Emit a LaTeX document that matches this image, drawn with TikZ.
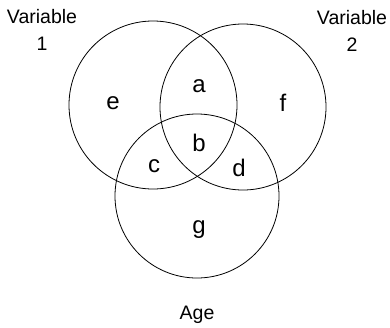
\documentclass[tikz,border=0pt]{standalone}
\usepackage{fontspec}
\setmainfont{Liberation Sans}
\tikzset{
  region/.style={font=\fontsize{24}{28}\selectfont, inner sep=0pt},
  setname/.style={font=\fontsize{19.5}{27}\selectfont, align=center, inner sep=0pt},
  setline/.style={line width=0.8pt}
}
\begin{document}
\begin{tikzpicture}[x=1pt, y=-1pt]
  \useasboundingbox (0,0) rectangle (390,327);

  % Los tres conjuntos
  \draw[setline] (153,105) circle (84);
  \draw[setline] (243,107) circle (83);
  \draw[setline] (197,196) circle (82);

  % Regiones
  \node[region] (rega) at (199,86) {a};
  \node[region] (regb) at (199,143) {b};
  \node[region] (regc) at (154,166) {c};
  \node[region] (regd) at (239,168) {d};
  \node[region] (rege) at (113,103) {e};
  \node[region] (regf) at (283,103) {f};
  \node[region] (regg) at (199,230) {g};

  % Nombres de los conjuntos
  \node[setname] (varone) at (42,30) {Variable\\1};
  \node[setname] (vartwo) at (352,31) {Variable\\2};
  \node[setname] (age) at (197,315) {Age};
\end{tikzpicture}
\end{document}
